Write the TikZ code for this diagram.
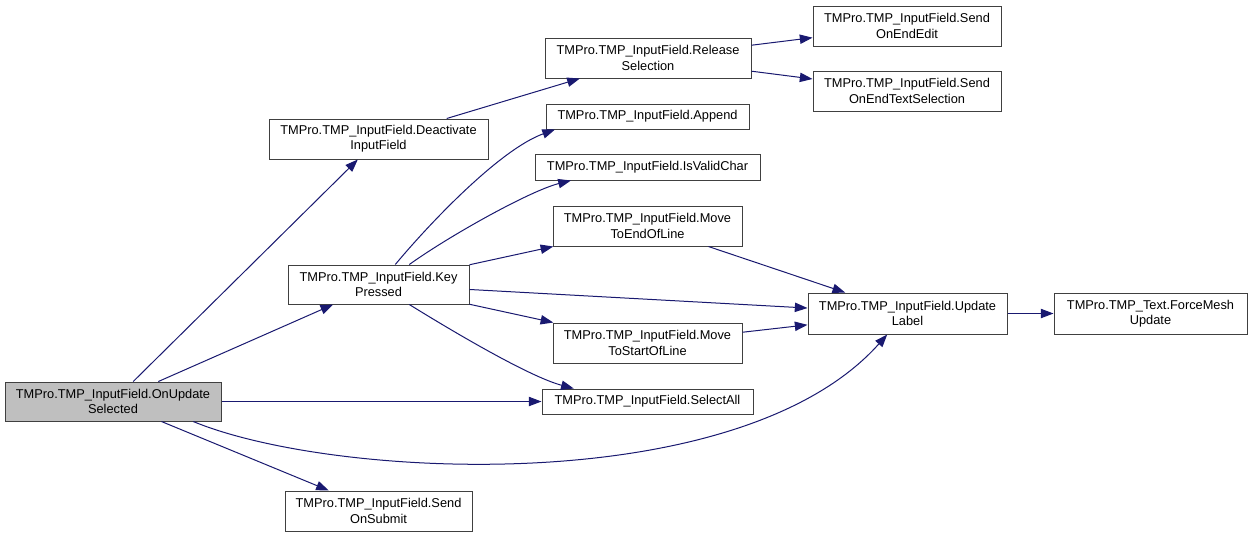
\documentclass[tikz,border=0pt]{standalone}
\usepackage{fontspec}
\setmainfont{Liberation Sans}
\usetikzlibrary{arrows.meta}
\definecolor{callblue}{HTML}{191970}
\definecolor{boxline}{HTML}{404040}
\tikzset{
  fnbox/.style={draw=boxline,line width=.75pt,fill=white,align=center,inner sep=0pt,font=\fontsize{9.6pt}{11.4pt}\selectfont},
  fnboxcur/.style={fnbox,fill=black!25},
  twoline/.style={minimum height=30pt},
  oneline/.style={minimum height=18.75pt},
  callarr/.style={-{Triangle[length=9.5pt,width=7pt]},line width=.75pt,draw=callblue}
}

\begin{document}
\begin{tikzpicture}[x=0.75pt,y=-0.75pt]
  \fill[white] (0,0) rectangle (1252,537);
  % caller on the left
  \node[fnboxcur,twoline,minimum width=162pt,minimum height=29.25pt] (sel) at (113,401.5) {TMPro.TMP\_InputField.OnUpdate\\Selected};
  % second column
  \node[fnbox,twoline,minimum width=164.25pt] (deact) at (378.5,139) {TMPro.TMP\_InputField.Deactivate\\InputField};
  \node[fnbox,twoline,minimum width=135.75pt,minimum height=29.25pt] (keyp) at (378.5,284.5) {TMPro.TMP\_InputField.Key\\Pressed};
  \node[fnbox,twoline,minimum width=140.25pt] (submit) at (378.5,511) {TMPro.TMP\_InputField.Send\\OnSubmit};
  % third column
  \node[fnbox,twoline,minimum width=154.5pt] (release) at (648,58) {TMPro.TMP\_InputField.Release\\Selection};
  \node[fnbox,oneline,minimum width=152.25pt] (append) at (647.5,116.5) {TMPro.TMP\_InputField.Append};
  \node[fnbox,oneline,minimum width=168.75pt,minimum height=19.5pt] (isvalid) at (647.5,167) {TMPro.TMP\_InputField.IsValidChar};
  \node[fnbox,twoline,minimum width=141.75pt] (moveend) at (647.5,226) {TMPro.TMP\_InputField.Move\\ToEndOfLine};
  \node[fnbox,twoline,minimum width=141.75pt] (movestart) at (647.5,343) {TMPro.TMP\_InputField.Move\\ToStartOfLine};
  \node[fnbox,oneline,minimum width=158.25pt] (selall) at (647.5,401.5) {TMPro.TMP\_InputField.SelectAll};
  % fourth and fifth column
  \node[fnbox,twoline,minimum width=141pt] (endedit) at (907,26) {TMPro.TMP\_InputField.Send\\OnEndEdit};
  \node[fnbox,twoline,minimum width=141pt] (endtext) at (907,91) {TMPro.TMP\_InputField.Send\\OnEndTextSelection};
  \node[fnbox,twoline,minimum width=149.25pt,minimum height=30.75pt] (update) at (907.5,313.5) {TMPro.TMP\_InputField.Update\\Label};
  \node[fnbox,twoline,minimum width=144.75pt,minimum height=30.75pt] (force) at (1150.5,313.5) {TMPro.TMP\_Text.ForceMesh\\Update};
  % calls
  \draw[callarr] (sel) -- (deact);
  \draw[callarr] (sel) -- (keyp);
  \draw[callarr] (sel) -- (selall);
  \draw[callarr] (sel) -- (submit);
  \draw[callarr] (sel.-14) .. controls +(140,58) and +(-147,165) .. (update.226);
  \draw[callarr] (deact) -- (release);
  \draw[callarr] (release) -- (endedit);
  \draw[callarr] (release) -- (endtext);
  \draw[callarr] (keyp.50) .. controls +(35,-42) and +(-55,20) .. (append.188);
  \draw[callarr] (keyp.33) .. controls +(42,-30) and +(-40,10) .. (isvalid.190);
  \draw[callarr] (keyp) -- (moveend);
  \draw[callarr] (keyp) -- (update);
  \draw[callarr] (keyp) -- (movestart);
  \draw[callarr] (keyp.-33) .. controls +(42,26) and +(-45,-12) .. (selall.170);
  \draw[callarr] (moveend) -- (update);
  \draw[callarr] (movestart) -- (update);
  \draw[callarr] (update) -- (force);
\end{tikzpicture}
\end{document}
